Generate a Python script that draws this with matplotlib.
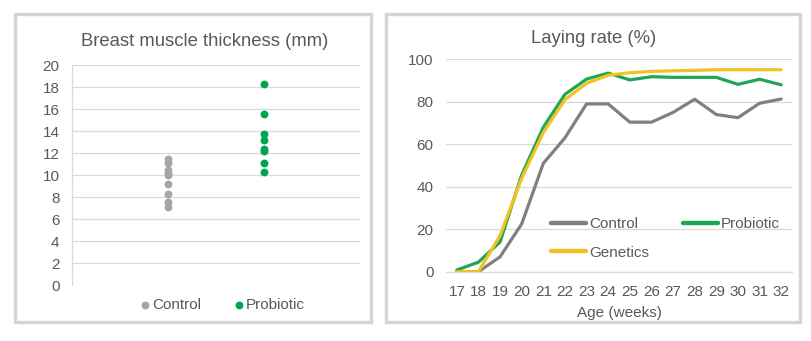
import matplotlib
matplotlib.use("Agg")
import matplotlib.pyplot as plt
from matplotlib.patches import Rectangle

plt.rcParams['font.family'] = ['Liberation Sans', 'DejaVu Sans']

# ---- data: breast muscle thickness (mm) ----
groups = ["Control", "Probiotic"]
control_thickness = [11.5, 11.1, 10.5, 10.2, 10.0, 9.2, 8.3, 7.6, 7.1]
probiotic_thickness = [18.3, 15.6, 13.8, 13.2, 12.4, 12.2, 11.1, 10.3]

# ---- data: laying rate (%) ----
weeks = [17, 18, 19, 20, 21, 22, 23, 24, 25, 26, 27, 28, 29, 30, 31, 32]
laying_control = [0, 0, 7, 22.5, 51, 63, 79, 79, 70.4, 70.4, 75, 81.2, 74, 72.5, 79.3, 81.3]
laying_probiotic = [0.8, 4.5, 14, 45.5, 68, 83.5, 90.7, 93.5, 90.3, 91.8, 91.5, 91.5, 91.5, 88.2, 90.6, 88]
laying_genetics = [0, 0, 17, 44, 65.5, 81, 88.7, 92.5, 93.7, 94.3, 94.6, 94.8, 95.1, 95.1, 95.1, 95.1]

TXT = '#595959'
GRID = '#D9D9D9'
W, H = 812, 341
FS = 11.0

fig = plt.figure(figsize=(W / 100, H / 100), dpi=100)
fig.patch.set_facecolor('white')

def fx(px):
    return px / W

def fy(py):
    return 1 - py / H

# panel borders
for (x0, y0, x1, y1) in [(15.5, 14.5, 371.5, 321.5), (386.5, 14.5, 800.5, 322)]:
    fig.patches.append(Rectangle((fx(x0), fy(y1)), fx(x1) - fx(x0), fy(y0) - fy(y1),
                                 transform=fig.transFigure, fill=False,
                                 edgecolor='#D4D4D4', linewidth=2.4, zorder=0))

# ---- left chart ----
ax1 = fig.add_axes([fx(72), fy(285.3), fx(360) - fx(72), fy(65.3) - fy(285.3)])
ax1.set_xlim(0, 3)
ax1.set_ylim(0, 20)
ax1.set_yticks(range(0, 21, 2))
ax1.set_xticks([])
ax1.grid(axis='y', color=GRID, linewidth=0.9)
ax1.set_axisbelow(True)
for s in ['top', 'right', 'bottom']:
    ax1.spines[s].set_visible(False)
ax1.spines['left'].set_color(GRID)
ax1.spines['left'].set_linewidth(0.9)
ax1.tick_params(axis='y', length=0, pad=9, labelsize=FS, labelcolor=TXT)
ax1.scatter([1] * len(control_thickness), control_thickness, s=32, color='#A5A5A5',
            label=groups[0], zorder=3, linewidths=0)
ax1.scatter([2] * len(probiotic_thickness), probiotic_thickness, s=32, color='#00A550',
            label=groups[1], zorder=3, linewidths=0)
fig.legend(*ax1.get_legend_handles_labels(), loc='center', bbox_to_anchor=(fx(223), fy(305)),
           ncol=2, frameon=False, fontsize=FS, labelcolor=TXT, handlelength=0.5,
           handletextpad=0.2, columnspacing=2.2, borderpad=0, scatterpoints=1)
fig.text(fx(205), fy(42), "Breast muscle thickness (mm)", ha='center', va='center',
         fontsize=13.3, color=TXT)

# ---- right chart ----
ax2 = fig.add_axes([fx(446), fy(271.7), fx(792) - fx(446), fy(59.3) - fy(271.7)])
pos = list(range(len(weeks)))
lc, = ax2.plot(pos, laying_control, color='#808080', linewidth=2.3, label='Control',
               solid_joinstyle='round', solid_capstyle='round', zorder=3)
lp, = ax2.plot(pos, laying_probiotic, color='#1DA653', linewidth=2.3, label='Probiotic',
               solid_joinstyle='round', solid_capstyle='round', zorder=4)
lg, = ax2.plot(pos, laying_genetics, color='#F0C322', linewidth=2.3, label='Genetics',
               solid_joinstyle='round', solid_capstyle='round', zorder=5)
ax2.set_xlim(-0.5, len(weeks) - 0.5)
ax2.set_ylim(0, 100)
ax2.set_yticks(range(0, 101, 20))
ax2.set_xticks(pos)
ax2.set_xticklabels([str(w) for w in weeks])
ax2.grid(axis='y', color=GRID, linewidth=0.9)
ax2.set_axisbelow(True)
for s in ['top', 'right', 'left']:
    ax2.spines[s].set_visible(False)
ax2.spines['bottom'].set_color(GRID)
ax2.spines['bottom'].set_linewidth(0.9)
ax2.tick_params(axis='both', length=0, labelsize=FS, labelcolor=TXT)
ax2.tick_params(axis='y', pad=9)
ax2.tick_params(axis='x', pad=9.5)
ax2.set_xlabel("Age (weeks)", fontsize=FS, color=TXT, labelpad=5)
leg = ax2.legend([lc, lg, lp], ['Control', 'Genetics', 'Probiotic'], ncol=2, frameon=False,
                 loc='upper left', fontsize=FS,
                 labelcolor=TXT, handlelength=2.3, handletextpad=0.2, columnspacing=2.2,
                 labelspacing=0.95, borderpad=0, borderaxespad=0,
                 bbox_to_anchor=(fx(551), fy(217)), bbox_transform=fig.transFigure)
for h in leg.get_lines():
    h.set_linewidth(3.2)
fig.text(fx(593.5), fy(38.5), "Laying rate (%)", ha='center', va='center',
         fontsize=13.3, color=TXT)

fig.savefig('out.png', dpi=100, facecolor='white')
